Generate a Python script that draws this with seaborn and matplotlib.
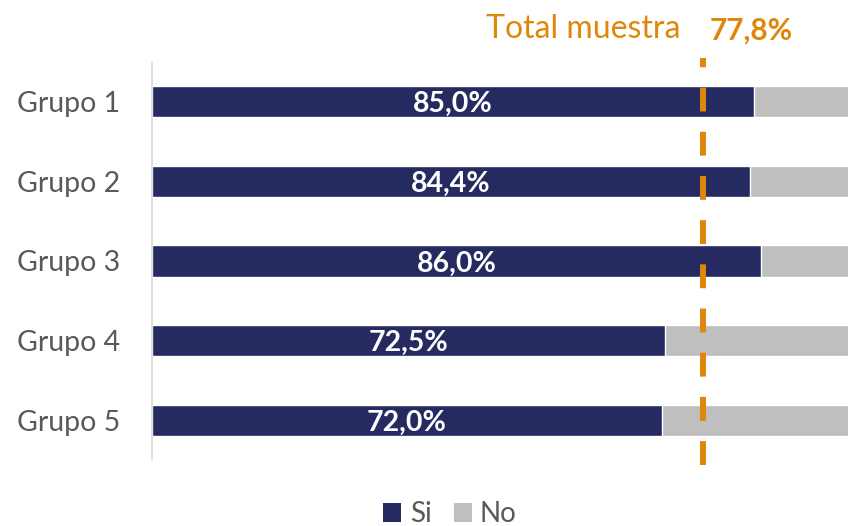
import matplotlib
matplotlib.use("Agg")
import matplotlib.pyplot as plt
import matplotlib.transforms as mtransforms
from matplotlib.patches import Patch
import seaborn as sns
import pandas as pd

categories = ["Grupo 1", "Grupo 2", "Grupo 3", "Grupo 4", "Grupo 5"]
si_values = [85.0, 84.4, 86.0, 72.5, 72.0]
no_values = [15.0, 15.6, 14.0, 27.5, 28.0]
total_muestra = 77.8
legend_labels = ["Si", "No"]

NAVY = "#252A60"
GRAY = "#BFBFBF"
ORANGE = "#E0860B"
TEXT = "#595959"

sns.set_theme(style="white")
plt.rcParams["font.family"] = ["Lato", "DejaVu Sans"]

df = pd.DataFrame({"grupo": categories, "si": si_values,
                   "total": [s + n for s, n in zip(si_values, no_values)]})

fig = plt.figure(figsize=(8.48, 5.26), dpi=100)
ax = fig.add_axes([152 / 848, (526 - 460) / 526, 1 - 152 / 848, (460 - 62) / 526])

sns.barplot(data=df, y="grupo", x="total", color=GRAY, width=0.39,
            saturation=1, ax=ax, orient="h")
sns.barplot(data=df, y="grupo", x="si", color=NAVY, width=0.39,
            saturation=1, ax=ax, orient="h")

ax.set_xlim(0, 696 / (602 / 85))
ax.set_ylim(4.5, -0.5)
ax.set_xlabel("")
ax.set_ylabel("")
ax.set_xticks([])
ax.tick_params(axis="y", length=0, pad=23, labelsize=20.5, labelcolor=TEXT)

for s in ["top", "right", "bottom"]:
    ax.spines[s].set_visible(False)
ax.spines["left"].set_color("#D9D9D9")
ax.spines["left"].set_linewidth(1.2)

for i, v in enumerate(si_values):
    ax.text(v / 2, i + 0.03, f"{v:.1f}%".replace(".", ","), ha="center", va="center",
            color="white", fontsize=20.5, fontweight="bold")

ax.axvline(total_muestra, ymin=-0.013, ymax=1.01, color=ORANGE, lw=4.3,
           dashes=(4.0, 3.4), clip_on=False)

trans = mtransforms.blended_transform_factory(ax.transData, fig.transFigure)
ax.annotate("Total muestra", xy=(total_muestra, 1 - 29 / 526), xycoords=trans,
            xytext=(-16, 0), textcoords="offset points", ha="right", va="center",
            color=ORANGE, fontsize=23)
ax.annotate(f"{total_muestra:.1f}%".replace(".", ","), xy=(total_muestra, 1 - 31 / 526),
            xycoords=trans, xytext=(5, 0), textcoords="offset points",
            ha="left", va="center", color=ORANGE, fontsize=21.5, fontweight="bold")

handles = [Patch(facecolor=NAVY, edgecolor="none"), Patch(facecolor=GRAY, edgecolor="none")]
fig.legend(handles, legend_labels, loc="center", bbox_to_anchor=(450 / 848, 1 - 514 / 526),
           ncol=2, frameon=False, fontsize=20, labelcolor=TEXT, handlelength=0.65,
           handleheight=0.65, handletextpad=0.3, columnspacing=0.8)

fig.savefig("out.png", dpi=100)
